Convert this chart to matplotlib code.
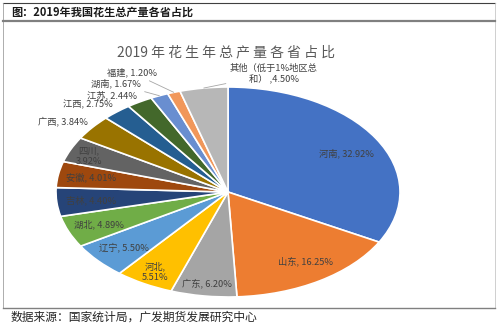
import numpy as np
import matplotlib
matplotlib.use('Agg')
import matplotlib.pyplot as plt
from matplotlib.lines import Line2D

plt.rcParams['font.family'] = ['Noto Sans CJK SC', 'DejaVu Sans']

# data (% of 2019 national peanut output)
provinces = ['河南', '山东', '广东', '河北', '辽宁', '湖北', '吉林', '安徽',
             '四川', '广西', '江西', '江苏', '湖南', '福建', '其他（低于1%地区总\n和）']
shares = [32.92, 16.25, 6.20, 5.51, 5.50, 4.89, 4.40, 4.01,
          3.92, 3.84, 2.75, 2.44, 1.67, 1.20, 4.50]
colors = ['#4472C4', '#ED7D31', '#A5A5A5', '#FFC000', '#5B9BD5', '#70AD47',
          '#264478', '#9E480E', '#636363', '#997300', '#255E91', '#43682B',
          '#698ED0', '#F1975A', '#B7B7B7']

# label placement style: radius factor, angle shift (deg), alignment, leader line
lab_r = [0.78, 0.80, 0.88, 0.87, 0.80, 0.81, 0.80, 0.81, 0.88,
         1.06, 1.065, 1.065, 1.15, 1.21, 1.125]
lab_da = [-3, 2, 0, 0, 0, 0, 0, 0, 1, -1.8, -1.4, -1.1, 2.7, 1.6, -8.7]
lab_ha = ['center'] * 9 + ['right', 'right', 'right', 'right', 'right', 'left']
leader = [False] * 12 + [True, True, True]
two_line = {'河北', '四川'}

W, H = 500, 327
fig = plt.figure(figsize=(W / 100, H / 100), dpi=100)

# frame around the figure
def fline(x0, y0, x1, y1, color='#7F7F7F', lw=0.8):
    fig.add_artist(Line2D([x0 / W, x1 / W], [1 - y0 / H, 1 - y1 / H],
                          color=color, lw=lw))

fline(3, 2.5, 495, 2.5, '#404040', 0.8)
fline(3.3, 2.5, 3.3, 308, '#A0A0A0', 0.6)
fline(494.7, 2.5, 494.7, 308, '#C8C8C8', 0.6)
fline(3, 20.5, 495, 20.5, '#808080', 1.6)
fline(3, 308, 495, 308, '#808080', 1.0)

fig.text(11 / W, 1 - 12 / H, '图：2019年我国花生总产量各省占比', fontsize=8,
         fontweight='bold', color='#1A1A1A', va='center', ha='left')
fig.text(11 / W, 1 - 317.5 / H, '数据来源：国家统计局，广发期货发展研究中心',
         fontsize=8.5, color='#262626', va='center', ha='left')

chart_title = ' '.join(['2019'] + list('年花生年总产量各省占比'))
fig.text(226 / W, 1 - 52 / H, chart_title, fontsize=10, color='#595959',
         va='center', ha='center')

ax = fig.add_axes([56 / W, 30 / H, 344 / W, 210 / H])
wedges, _ = ax.pie(shares, colors=colors, startangle=90, counterclock=False,
                   wedgeprops=dict(edgecolor='white', linewidth=1.2))
ax.set_aspect('auto')
ax.set_xlim(-1, 1)
ax.set_ylim(-1, 1)
ax.axis('off')

for i, w in enumerate(wedges):
    mid = np.deg2rad((w.theta1 + w.theta2) / 2)
    ang = mid + np.deg2rad(lab_da[i])
    name = provinces[i]
    sep = ',\n' if name in two_line else ', '
    if name.startswith('其他'):
        txt = name + ' ,' + f'{shares[i]:.2f}%'
    else:
        txt = name + sep + f'{shares[i]:.2f}%'
    tx, ty = lab_r[i] * np.cos(ang), lab_r[i] * np.sin(ang)
    kw = dict(fontsize=6.7, color='#404040', ha=lab_ha[i], va='center',
              multialignment='center')
    if leader[i]:
        ax.annotate(txt, xy=(np.cos(mid), np.sin(mid)), xytext=(tx, ty),
                    arrowprops=dict(arrowstyle='-', color='#A6A6A6', lw=0.6,
                                    shrinkA=1, shrinkB=0), **kw)
    else:
        ax.text(tx, ty, txt, **kw)

fig.savefig('out.png', dpi=100)
